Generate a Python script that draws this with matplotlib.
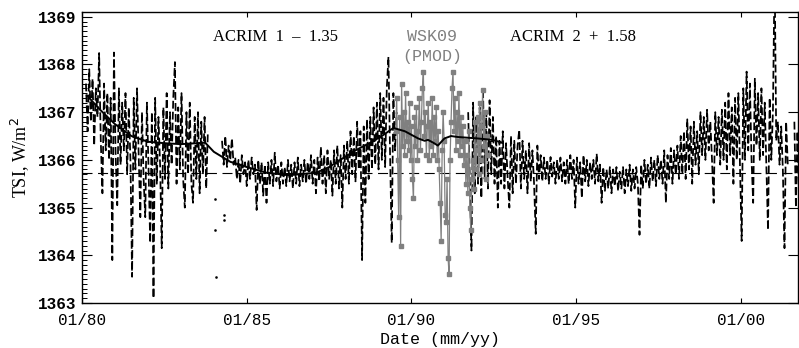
import numpy as np
import matplotlib
matplotlib.use("Agg")
from matplotlib import pyplot as plt

# ACRIM 1 (shifted by -1.35), first block, ~18 day steps
acrim1a_start, acrim1a_end = 1980.12, 1983.82
acrim1a = [
    1367.6, 1366.6, 1367.9, 1366.8, 1367.7, 1366.3, 1367.5, 1366.9, 1368.24, 1366.4,
    1365.3, 1367.6, 1366.2, 1367.4, 1366.0, 1367.3, 1363.9, 1368.25, 1366.1, 1365.05,
    1367.5, 1365.9, 1367.2, 1366.2, 1367.4, 1365.7, 1367.1, 1366.0, 1363.55, 1367.3,
    1365.8, 1367.5, 1366.1, 1364.8, 1367.0, 1365.6, 1364.8, 1367.2, 1365.8, 1364.26,
    1367.0, 1363.1, 1367.3, 1365.5, 1366.9, 1365.9, 1364.15, 1367.1, 1365.6, 1367.4,
    1365.4, 1367.0, 1365.9, 1367.3, 1368.05, 1365.5, 1367.1, 1365.8, 1367.4, 1365.6,
    1365.0, 1367.0, 1365.7, 1367.2, 1365.5, 1365.1, 1366.9, 1365.6, 1367.0, 1365.3,
    1366.8, 1365.7, 1366.9, 1365.4, 1366.6,
]

# isolated values in the 1983/84 gap
gap_dates = [1984.03, 1984.05, 1984.07, 1984.30, 1984.32]
gap_vals = [1365.18, 1364.53, 1363.55, 1364.85, 1364.75]

# ACRIM 1, second block
acrim1b_start, acrim1b_end = 1984.25, 1989.55
acrim1b = [
    1366.4, 1365.9, 1366.5, 1365.85, 1366.3, 1366.0, 1366.45, 1365.9,
    1366.05, 1365.6, 1366.0, 1365.5, 1366.1, 1365.7, 1365.95, 1365.45, 1366.0, 1365.6,
    1366.05, 1365.7, 1365.9, 1364.95, 1366.0, 1365.5, 1365.95, 1365.25,
    1365.9, 1365.1, 1365.95, 1365.5, 1366.0, 1365.45, 1366.15, 1365.55, 1365.9, 1365.4,
    1365.95, 1365.5, 1365.85, 1365.45, 1366.0, 1365.55, 1365.9, 1365.4, 1365.95, 1365.5,
    1366.05, 1365.45, 1365.9, 1365.55, 1366.0, 1365.5, 1365.95, 1365.6, 1366.1, 1365.5,
    1366.0, 1365.3, 1366.05, 1365.55,
    1366.27, 1365.5, 1366.1, 1365.3, 1366.2, 1365.6, 1366.0, 1365.25, 1366.2, 1365.5,
    1366.3, 1365.4, 1366.1, 1365.0, 1366.3,
    1365.6, 1366.4, 1365.5, 1366.6, 1365.7, 1366.5, 1365.55, 1366.8, 1365.8, 1366.6,
    1363.9, 1366.7, 1365.1, 1366.85, 1365.6, 1366.9, 1365.8, 1367.1,
    1365.9, 1367.2, 1365.8, 1367.4, 1366.0, 1367.3, 1365.85, 1367.5, 1368.16, 1366.1,
    1364.26, 1367.4, 1366.2, 1367.0,
]

# ACRIM 2 (shifted by +1.58)
acrim2_start, acrim2_end = 1991.72, 2001.42
acrim2 = [
    1367.0, 1365.6, 1364.1, 1367.2, 1365.3, 1366.9, 1365.5, 1367.1, 1365.2, 1367.5,
    1365.6, 1367.0, 1365.4, 1367.25, 1365.7, 1366.9,
    1365.5, 1366.5, 1365.0, 1366.4, 1365.5, 1366.6, 1365.4, 1366.35, 1365.6, 1365.0,
    1366.5, 1365.3, 1366.4, 1365.5, 1366.3, 1366.63, 1365.4, 1366.4, 1365.6, 1366.2,
    1365.3, 1366.35, 1365.55, 1366.2, 1365.5, 1364.45, 1366.3, 1365.6, 1366.1,
    1365.55, 1366.05, 1365.6, 1366.0, 1365.5, 1366.06, 1365.65, 1365.95, 1365.5, 1366.0,
    1365.6, 1366.05, 1365.55, 1365.95, 1365.5, 1366.0,
    1365.5, 1366.1, 1365.6, 1366.0, 1365.0, 1366.05, 1365.5, 1365.95, 1365.2, 1366.1,
    1365.55, 1366.0, 1365.45, 1365.95, 1365.6, 1366.0, 1365.5, 1366.13, 1365.55, 1365.9,
    1365.1, 1365.85, 1365.35, 1365.8, 1365.4, 1365.85, 1365.3, 1365.8, 1365.45, 1365.85,
    1365.35, 1365.75, 1365.4, 1365.85, 1365.3, 1365.8, 1365.45, 1365.9, 1365.35, 1365.8,
    1365.4, 1365.85, 1365.5, 1364.43, 1365.9, 1365.4,
    1366.0, 1365.5, 1365.9, 1365.4, 1366.05, 1365.55, 1366.0, 1365.45, 1366.1, 1365.6,
    1366.0, 1365.5, 1366.2, 1365.1, 1366.1, 1365.6, 1366.25, 1365.5, 1366.2, 1365.7,
    1366.3, 1365.6, 1366.5,
    1365.7, 1366.6, 1365.6, 1366.85, 1365.8, 1366.7, 1365.5, 1366.8, 1365.9, 1366.6, 1365.7,
    1367.0, 1366.1, 1366.9, 1366.0, 1367.05, 1366.2, 1366.8, 1366.0, 1365.1, 1367.0,
    1366.1, 1366.9, 1365.9, 1367.05,
    1366.0, 1367.2, 1365.8, 1367.4, 1366.1, 1367.1, 1365.5, 1367.3, 1366.0, 1367.4,
    1365.9, 1364.3,
    1367.5, 1366.0, 1367.85, 1366.2, 1367.6, 1366.0, 1365.1, 1367.7, 1366.3, 1367.4, 1366.0,
    1367.5, 1366.1, 1367.2, 1365.9, 1364.53, 1367.3, 1366.0, 1367.05, 1370.0,
    1366.4, 1366.8, 1365.9, 1366.7, 1365.8, 1364.15, 1366.8, 1365.9,
]
acrim2_tail_start, acrim2_tail_end = 2001.62, 2001.76
acrim2_tail = [1366.8, 1365.0, 1366.6, 1365.3]

# WSK09 (PMOD) filling the ACRIM gap
wsk_start, wsk_end = 1989.52, 1992.31
wsk09 = [
    1366.6, 1367.3, 1366.0, 1364.8, 1366.9, 1364.2, 1367.6, 1366.3, 1367.0, 1366.1,
    1367.4, 1366.4, 1366.8,
    1366.2, 1367.2, 1366.0, 1366.7, 1365.6, 1365.2, 1366.9, 1366.3, 1367.1, 1366.0,
    1366.6, 1367.3, 1366.2, 1366.8, 1367.5,
    1367.85, 1366.5, 1367.0, 1366.1, 1366.7, 1367.2, 1366.0, 1366.8, 1366.3, 1367.3,
    1366.1, 1366.9, 1366.4, 1367.1, 1366.0, 1366.6, 1365.8,
    1365.1, 1364.3, 1366.2, 1367.0, 1366.4, 1364.85, 1364.7, 1365.6, 1363.95, 1363.6,
    1366.0, 1366.8, 1367.5, 1367.85, 1366.6, 1367.3, 1366.2, 1367.0, 1366.4, 1367.4,
    1366.1, 1366.9,
    1366.3, 1366.7, 1365.9, 1366.4, 1365.5, 1366.1, 1365.3, 1366.6, 1365.0, 1364.53,
    1365.6, 1366.0, 1365.4, 1366.8, 1365.8, 1366.2,
    1366.9, 1365.7, 1367.2, 1366.0, 1366.7, 1367.47, 1366.3, 1367.0, 1365.6, 1366.5,
    1366.1,
]

# running mean
smooth_dates = [1980.15, 1980.55, 1981.0, 1981.5, 1982.0, 1982.5, 1983.0, 1983.74,
                1984.0, 1984.5, 1985.0, 1985.6, 1986.3, 1987.1, 1987.5, 1987.84,
                1988.3, 1988.75, 1989.1, 1989.45, 1989.8, 1990.2, 1990.4, 1990.5,
                1990.66, 1990.8, 1991.0, 1991.2, 1991.4, 1992.0, 1992.45, 1992.76]
smooth_vals = [1367.35, 1367.05, 1366.75, 1366.5, 1366.38, 1366.35, 1366.33, 1366.36,
               1366.17, 1365.96, 1365.85, 1365.73, 1365.68, 1365.73, 1365.85, 1366.0,
               1366.2, 1366.36, 1366.5, 1366.67, 1366.6, 1366.45, 1366.4, 1366.42,
               1366.36, 1366.3, 1366.45, 1366.5, 1366.48, 1366.45, 1366.42, 1366.36]

ref_level = 1365.72
xticks = [1980, 1985, 1990, 1995, 2000]
xticklabels = ["01/80", "01/85", "01/90", "01/95", "01/00"]

mono = "Liberation Mono"
serif = "Liberation Serif"
gray = "#808080"

fig = plt.figure(figsize=(7.99, 3.48), dpi=100)
ax = fig.add_axes([82 / 799, 45 / 348, 716 / 799, 291 / 348])

ax.axhline(ref_level, color="black", lw=0.8, ls=(0, (9, 5)), zorder=1)

dash = (0, (4.5, 1.8))
for start, end, vals in [(acrim1a_start, acrim1a_end, acrim1a),
                         (acrim1b_start, acrim1b_end, acrim1b),
                         (acrim2_start, acrim2_end, acrim2),
                         (acrim2_tail_start, acrim2_tail_end, acrim2_tail)]:
    t = np.linspace(start, end, len(vals))
    ax.plot(t, vals, color="black", lw=1.25, ls=dash, zorder=2)
ax.plot(gap_dates, gap_vals, ls="none", marker="s", ms=0.8, color="black", zorder=2)

t_wsk = np.linspace(wsk_start, wsk_end, len(wsk09))
ax.plot(t_wsk, wsk09, color=gray, lw=0.9, marker="s", ms=2.4, mec=gray, mfc=gray, zorder=3)

ax.plot(smooth_dates, smooth_vals, color="black", lw=1.4, zorder=4)

ax.set_xlim(1980, 2001.73)
ax.set_ylim(1363.0, 1369.1)
ax.set_xticks(xticks)
ax.set_xticklabels(xticklabels, family=mono, fontsize=11.5)
ax.set_yticks([1363, 1364, 1365, 1366, 1367, 1368, 1369])
ax.set_yticks(np.arange(1363.0, 1369.1, 0.1), minor=True)
for lab in ax.get_yticklabels():
    lab.set_family(mono)
    lab.set_fontsize(11.5)
    lab.set_fontweight("bold")
ax.tick_params(axis="x", direction="in", length=3.6, width=0.8, top=True, pad=7)
ax.tick_params(axis="y", which="major", direction="in", length=7, width=0.8, right=True, pad=4)
ax.tick_params(axis="y", which="minor", direction="in", length=3.5, width=0.7, right=False)
ax.tick_params(axis="x", which="minor", bottom=False, top=False)
for s in ax.spines.values():
    s.set_linewidth(1.0)

ax.set_xlabel("Date (mm/yy)", family=mono, fontsize=12, labelpad=3)
ax.set_ylabel("TSI, W/m$^2$", family=serif, fontsize=13, labelpad=5)

ax.text(1983.98, 1368.58, "ACRIM  1  \u2013  1.35", family=serif, fontsize=12,
        ha="left", va="center")
ax.text(1993.0, 1368.58, "ACRIM  2  +  1.58", family=serif, fontsize=12,
        ha="left", va="center")
ax.text(1990.62, 1368.58, "WSK09", family=mono, fontsize=12, color=gray,
        ha="center", va="center")
ax.text(1990.62, 1368.16, "(PMOD)", family=mono, fontsize=12, color=gray,
        ha="center", va="center")

fig.savefig("out.png", dpi=100)
